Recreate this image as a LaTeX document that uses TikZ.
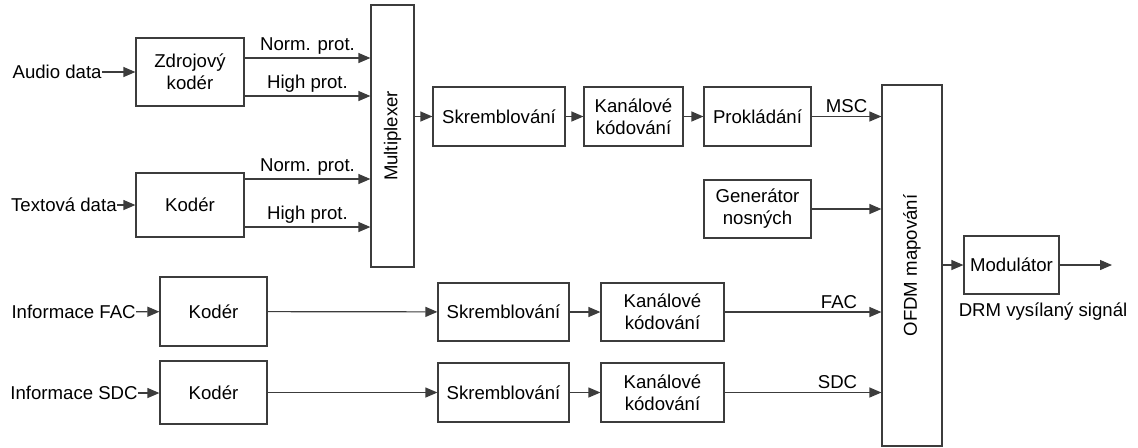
\documentclass[tikz,border=0pt]{standalone}
\usepackage{fontspec}
\setmainfont{Liberation Sans}
\definecolor{linka}{RGB}{60,60,60}
\usetikzlibrary{arrows.meta,positioning}

\begin{document}
\begin{tikzpicture}[x=0.5pt,y=-0.5pt,
      font=\fontsize{9.3}{11}\selectfont,
      blk/.style={draw=linka,line width=0.6pt,align=center,inner sep=1pt},
      txt/.style={inner sep=0pt},
      arr/.style={draw=linka,line width=0.6pt,-{Triangle[length=6pt,width=5pt]}},
      lbl/.style={midway,above=1.5pt,inner sep=0pt}]
      \useasboundingbox (0,0) rectangle (1138,447);
      % Audio / text branch
      \node[txt,anchor=east] (ain) at (102,72) {Audio data};
      \node[blk,minimum width=54pt,minimum height=34pt] (zk) at (190,72) {Zdrojový\\kodér};
      \node[txt,anchor=east] (tin) at (117,205) {Textová data};
      \node[blk,minimum width=54pt,minimum height=32pt] (kt) at (190,205) {Kodér};
      \node[blk,minimum width=21.5pt,minimum height=131pt,
            label={[rotate=90]center:Multiplexer}] (mux) at (392.5,136) {};
      % MSC chain
      \node[blk,minimum width=66pt,minimum height=29.5pt] (skr) at (499,116.5) {Skremblování};
      \node[blk,minimum width=49.5pt,minimum height=29.5pt] (kan) at (633.5,116.5) {Kanálové\\kódování};
      \node[blk,minimum width=53.5pt,minimum height=29.5pt] (prok) at (757.5,116.5) {Prokládání};
      \node[blk,minimum width=53.5pt,minimum height=29pt] (gen) at (757.5,209) {Generátor\\nosných};
      \node[blk,minimum width=30pt,minimum height=180.5pt,
            label={[rotate=90]center:OFDM mapování}] (ofdm) at (912,265.5) {};
      \node[blk,minimum width=47.5pt,minimum height=29pt] (mod) at (1011.5,265) {Modulátor};
      \coordinate (out) at (1112,265);
      \node[txt] (drm) at (1043,312) {DRM vysílaný signál};
      % FAC chain
      \node[txt,anchor=east] (fin) at (136,312) {Informace FAC};
      \node[blk,minimum width=53.5pt,minimum height=34.5pt] (kf) at (213.5,311.5) {Kodér};
      \node[blk,minimum width=65.5pt,minimum height=29pt] (skf) at (503.5,312) {Skremblování};
      \node[blk,minimum width=61.5pt,minimum height=29pt] (kaf) at (662.5,312) {Kanálové\\kódování};
      % SDC chain
      \node[txt,anchor=east] (sin) at (138,393) {Informace SDC};
      \node[blk,minimum width=53.5pt,minimum height=31.5pt] (ks) at (213.5,392.5) {Kodér};
      \node[blk,minimum width=65.5pt,minimum height=29.5pt] (sks) at (503.5,392.5) {Skremblování};
      \node[blk,minimum width=61.5pt,minimum height=29.5pt] (kas) at (662.5,392.5) {Kanálové\\kódování};
      % Connectors
      \draw[arr] (ain) -- (zk);
      \draw[arr] (zk.east |- 0,58) -- (mux.west |- 0,58) node[lbl] {Norm. prot.};
      \draw[arr] (zk.east |- 0,96) -- (mux.west |- 0,96) node[lbl] {High prot.};
      \draw[arr] (tin) -- (kt);
      \draw[arr] (kt.east |- 0,179) -- (mux.west |- 0,179) node[lbl] {Norm. prot.};
      \draw[arr] (kt.east |- 0,227) -- (mux.west |- 0,227) node[lbl] {High prot.};
      \draw[arr] (mux.east |- skr) -- (skr);
      \draw[arr] (skr) -- (kan);
      \draw[arr] (kan) -- (prok);
      \draw[arr] (prok) -- (ofdm.west |- prok) node[lbl] {MSC};
      \draw[arr] (gen) -- (ofdm.west |- gen);
      \draw[arr] (ofdm.east |- mod) -- (mod);
      \draw[arr] (mod) -- (out);
      \draw[arr] (fin) -- (kf);
      \draw[arr] (kf) -- (skf);
      \draw[arr] (skf) -- (kaf);
      \draw[arr] (kaf) -- (ofdm.west |- kaf) node[lbl,pos=0.73] {FAC};
      \draw[arr] (sin) -- (ks.west |- sin);
      \draw[arr] (ks.east |- sks) -- (sks);
      \draw[arr] (sks) -- (kas);
      \draw[arr] (kas) -- (ofdm.west |- kas) node[lbl,pos=0.72] {SDC};
    \end{tikzpicture}
\end{document}
